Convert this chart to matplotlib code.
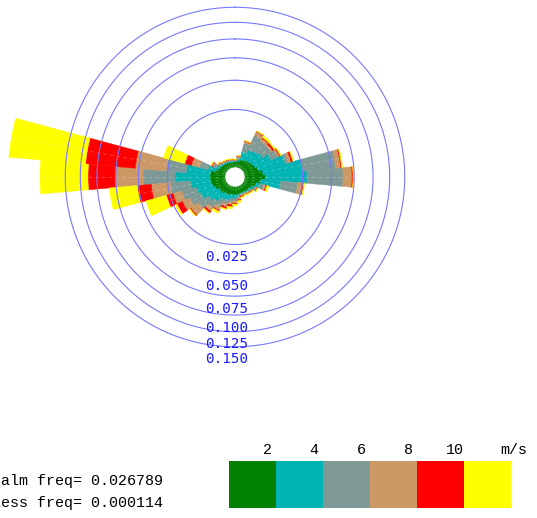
import numpy as np
import matplotlib
matplotlib.use("Agg")
import matplotlib.pyplot as plt

# ---------------- data ----------------
directions = [0, 10, 20, 30, 40, 50, 60, 70, 80, 90, 100, 110, 120, 130, 140, 150, 160, 170,
              180, 190, 200, 210, 220, 230, 240, 250, 260, 270, 280, 290, 300, 310, 320, 330, 340, 350]

# cumulative frequency of wind from each direction with speed below the class limit
cum_lt2 = [.00163, .00182, .00222, .00243, .00266, .00290, .00314, .00367, .00483, .00548, .00423, .00314,
           .00266, .00222, .00222, .00201, .00201, .00222, .00222, .00222, .00243, .00243, .00266, .00266,
           .00314, .00367, .00394, .00394, .00394, .00266, .00222, .00201, .00182, .00182, .00163, .00163]
cum_lt4 = [.00182, .00222, .00423, .00548, .00616, .00688, .00930, .01521, .02534, .02828, .01207, .00423,
           .00314, .00266, .00243, .00222, .00222, .00266, .00290, .00314, .00367, .00423, .00548, .00652,
           .00845, .00930, .01158, .01995, .01359, .00483, .00290, .00243, .00211, .00201, .00191, .00182]
cum_lt6 = [.00191, .00266, .00726, .01207, .01111, .01111, .01257, .01691, .05438, .06194, .02190, .00548,
           .00367, .00290, .00266, .00243, .00243, .00314, .00367, .00423, .00483, .00652, .00845, .01158,
           .01412, .01691, .02325, .04537, .02606, .00804, .00367, .00266, .00232, .00222, .00211, .00201]
cum_lt8 = [.00201, .00290, .00804, .01412, .01257, .01207, .01359, .01871, .05973, .07239, .02534, .00616,
           .00380, .00302, .00278, .00255, .00266, .00340, .00423, .00483, .00581, .00804, .01018, .01633,
           .01871, .02257, .03805, .07606, .05333, .01158, .00394, .00278, .00243, .00232, .00222, .00211]
cum_lt10 = [.00211, .00302, .00825, .01439, .01308, .01308, .01412, .01995, .06083, .07360, .02606, .00652,
            .00394, .00314, .00290, .00266, .00290, .00367, .00452, .00548, .00652, .00845, .01111, .01691,
            .02257, .02753, .05128, .11311, .11768, .01521, .00423, .00290, .00255, .00243, .00232, .00222]
cum_all = [.00222, .00314, .00845, .01466, .01412, .01359, .01466, .02059, .06194, .07483, .02679, .00726,
           .00423, .00340, .00314, .00290, .00314, .00423, .00515, .00616, .00688, .00930, .01158, .01750,
           .02393, .04537, .08366, .19709, .26594, .02981, .00452, .00314, .00266, .00255, .00243, .00232]

ring_freqs = [0.025, 0.050, 0.075, 0.100, 0.125, 0.150]
speed_labels = ["2", "4", "6", "8", "10"]
unit_label = "m/s"
calm_text = "calm freq= 0.026789"
less_text = "less freq= 0.000114"

class_colors = ["#008000", "#00b4b4", "#7f9996", "#cc9966", "#ff0000", "#ffff00"]
ring_color = "#7878ff"
label_color = "#1a1aff"

HOLE = 0.00085
R_MIN = 0.000045
R_MAX = 0.2968

# ---------------- figure ----------------
W, H = 537, 518
fig = plt.figure(figsize=(W / 100, H / 100), dpi=100)

S = 480
cx, cy = 235, 177
ax = fig.add_axes([(cx - S / 2) / W, (H - cy - S / 2) / H, S / W, S / H], projection="polar")
ax.set_theta_zero_location("N")
ax.set_theta_direction(-1)
ax.set_rscale("function", functions=(lambda f: np.sqrt(np.maximum(f, 0)), lambda s: np.square(s)))
ax.set_rlim(R_MIN, R_MAX)
ax.axis("off")

theta = np.deg2rad(directions)
width = np.deg2rad(10)
prev = np.full(len(directions), HOLE)
for vals, col in zip([cum_lt2, cum_lt4, cum_lt6, cum_lt8, cum_lt10, cum_all], class_colors):
    vals = np.asarray(vals)
    ax.bar(theta, vals - prev, width=width, bottom=prev, color=col, edgecolor=col,
           linewidth=0.3, align="center", zorder=2)
    prev = vals

# faint centre lines of each petal
for th, top in zip(theta, cum_all):
    ax.plot([th, th], [HOLE, top], color="white", alpha=0.3, lw=0.6,
            ls=(0, (4, 4)), zorder=3)

t = np.linspace(0, 2 * np.pi, 500)
for f in ring_freqs:
    ax.plot(t, np.full_like(t, f), color=ring_color, lw=0.8, zorder=5)
    ax.annotate(f"{f:.3f}", xy=(np.pi, f), xytext=(-5.8, -9.0), textcoords="offset points",
                ha="center", va="center", color=label_color, fontsize=10.3,
                family="DejaVu Sans Mono", zorder=6)

# ---------------- label bar ----------------
cax = fig.add_axes([229 / W, (H - 508) / H, 282 / W, 47 / H])
cax.bar(range(len(class_colors)), [1] * len(class_colors), width=1.0, align="edge",
        color=class_colors, linewidth=0)
cax.set_xlim(0, len(class_colors))
cax.set_ylim(0, 1)
cax.axis("off")
for i, lab in enumerate(speed_labels):
    cax.text(i + 1 - 0.19, 1.23, lab, ha="center", va="center", fontsize=10.8,
             family="Liberation Mono", color="black")
cax.text(6.05, 1.23, unit_label, ha="center", va="center", fontsize=10.8,
         family="Liberation Mono", color="black")

# text partly runs off the left edge, as in the reference
fig.text(163 / W, 1 - 481 / H, calm_text, ha="right", va="center", fontsize=10.8,
         family="Liberation Mono", color="black")
fig.text(163 / W, 1 - 503 / H, less_text, ha="right", va="center", fontsize=10.8,
         family="Liberation Mono", color="black")

fig.savefig("out.png", dpi=100, facecolor="white")
